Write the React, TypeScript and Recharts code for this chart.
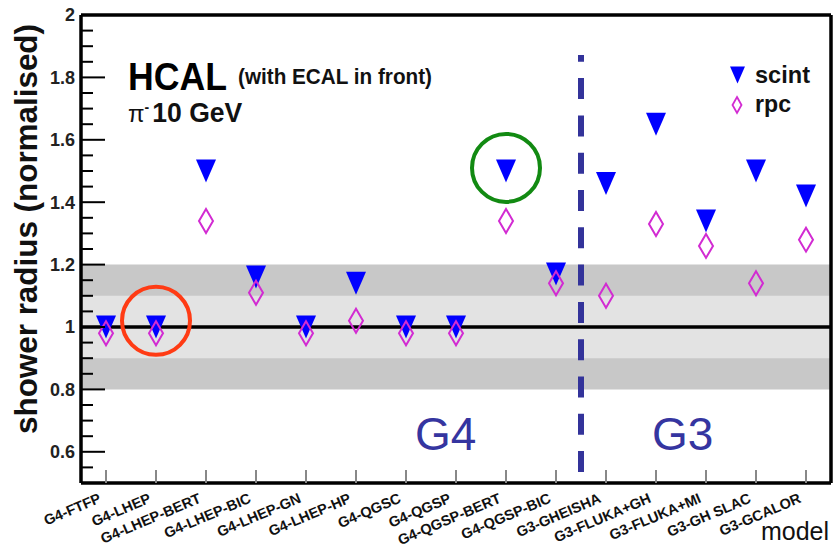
import {
  ComposedChart,
  Scatter,
  XAxis,
  YAxis,
  ReferenceArea,
  ReferenceLine,
  ReferenceDot,
} from 'recharts';

const FONT = '"Liberation Sans", Arial, Helvetica, sans-serif';

// hadronic shower models, G4 lists first then G3
const MODELS = [
  'G4-FTFP',
  'G4-LHEP',
  'G4-LHEP-BERT',
  'G4-LHEP-BIC',
  'G4-LHEP-GN',
  'G4-LHEP-HP',
  'G4-QGSC',
  'G4-QGSP',
  'G4-QGSP-BERT',
  'G4-QGSP-BIC',
  'G3-GHEISHA',
  'G3-FLUKA+GH',
  'G3-FLUKA+MI',
  'G3-GH SLAC',
  'G3-GCALOR',
];

// normalised shower radius per model
const SCINT = [1.0, 1.0, 1.5, 1.16, 1.0, 1.14, 1.0, 1.0, 1.5, 1.17, 1.46, 1.65, 1.34, 1.5, 1.42];
const RPC = [0.98, 0.98, 1.34, 1.11, 0.98, 1.02, 0.98, 0.98, 1.34, 1.14, 1.1, 1.33, 1.26, 1.14, 1.28];

const Y_LABELS = [0.6, 0.8, 1, 1.2, 1.4, 1.6, 1.8, 2];
const Y_TICKS = Array.from({ length: 31 }, (_, i) => Math.round((0.5 + i * 0.05) * 100) / 100);
const X_TICKS = MODELS.map((_, i) => i);

const scintPoints = MODELS.map((m, i) => ({ x: i, y: SCINT[i], model: m }));
const rpcPoints = MODELS.map((m, i) => ({ x: i, y: RPC[i], model: m }));

const isMajor = (v: number) => Y_LABELS.some((l) => Math.abs(l - v) < 1e-6);

function TriangleDown({ cx, cy, w = 20, h = 23 }: any) {
  return (
    <polygon
      points={`${cx - w / 2},${cy - h / 2} ${cx + w / 2},${cy - h / 2} ${cx},${cy + h / 2}`}
      fill="#0000ff"
    />
  );
}

function Diamond({ cx, cy, w = 14, h = 24, sw = 2 }: any) {
  return (
    <polygon
      points={`${cx},${cy - h / 2} ${cx + w / 2},${cy} ${cx},${cy + h / 2} ${cx - w / 2},${cy}`}
      fill="none"
      stroke="#d22bd2"
      strokeWidth={sw}
    />
  );
}

function LeftTick(props: any) {
  const { x, y, payload } = props;
  const major = isMajor(payload.value);
  return (
    <g>
      <line x1={x} x2={x + (major ? 24 : 12)} y1={y} y2={y} stroke="#000" strokeWidth={2} />
      {major && (
        <text
          x={x - 6}
          y={y}
          dy="0.36em"
          textAnchor="end"
          fontFamily={FONT}
          fontWeight="bold"
          fontSize={18}
          fill="#222"
        >
          {String(payload.value)}
        </text>
      )}
    </g>
  );
}

function RightTick(props: any) {
  const { x, y, payload } = props;
  const major = isMajor(payload.value);
  return <line x1={x} x2={x - (major ? 22 : 11)} y1={y} y2={y} stroke="#000" strokeWidth={2} />;
}

function BottomTick(props: any) {
  const { x, y, payload } = props;
  return (
    <g>
      <line x1={x} x2={x} y1={y} y2={y - 13} stroke="#888" strokeWidth={2} />
      <text
        transform={`translate(${x - 4},${y + 19}) rotate(-23)`}
        textAnchor="end"
        fontFamily={FONT}
        fontWeight="bold"
        fontSize={14.5}
        fill="#111"
      >
        {MODELS[payload.value]}
      </text>
    </g>
  );
}

function TopTick(props: any) {
  const { x, y } = props;
  return <line x1={x} x2={x} y1={y} y2={y + 12} stroke="#111" strokeWidth={2} />;
}

const axisLine = { stroke: '#000', strokeWidth: 3.5 };

export default function App() {
  return (
    <div style={{ position: 'absolute', left: 0, top: 0, width: 840, height: 546, background: '#fff' }}>
      <ComposedChart width={840} height={546} margin={{ top: 14, right: 8, bottom: 62, left: 80 }}>
        <XAxis
          xAxisId="b"
          type="number"
          dataKey="x"
          domain={[-0.5, 14.5]}
          ticks={X_TICKS}
          interval={0}
          height={1}
          tickSize={0}
          tickMargin={0}
          tickLine={false}
          tick={<BottomTick />}
          axisLine={axisLine}
        />
        <XAxis
          xAxisId="t"
          orientation="top"
          type="number"
          dataKey="x"
          domain={[-0.5, 14.5]}
          ticks={X_TICKS}
          interval={0}
          height={1}
          tickSize={0}
          tickMargin={0}
          tickLine={false}
          tick={<TopTick />}
          axisLine={axisLine}
        />
        <YAxis
          yAxisId="l"
          type="number"
          dataKey="y"
          domain={[0.5, 2]}
          ticks={Y_TICKS}
          interval={0}
          width={1}
          tickSize={0}
          tickMargin={0}
          tickLine={false}
          tick={<LeftTick />}
          axisLine={axisLine}
        />
        <YAxis
          yAxisId="r"
          orientation="right"
          type="number"
          dataKey="y"
          domain={[0.5, 2]}
          ticks={Y_TICKS}
          interval={0}
          width={1}
          tickSize={0}
          tickMargin={0}
          tickLine={false}
          tick={<RightTick />}
          axisLine={axisLine}
        />

        {/* tolerance bands around unity */}
        <ReferenceArea xAxisId="b" yAxisId="l" y1={0.8} y2={1.2} fill="#c8c8c8" fillOpacity={1} stroke="none" />
        <ReferenceArea xAxisId="b" yAxisId="l" y1={0.9} y2={1.1} fill="#e3e3e3" fillOpacity={1} stroke="none" />
        <ReferenceLine xAxisId="b" yAxisId="l" y={1} stroke="#000" strokeWidth={3.5} />

        {/* G4 | G3 separator, dashes counted from the bottom */}
        <ReferenceLine
          xAxisId="b"
          yAxisId="l"
          segment={[
            { x: 9.5, y: 0.535 },
            { x: 9.5, y: 1.872 },
          ]}
          stroke="#33339a"
          strokeWidth={6}
          strokeDasharray="21 16.3"
        />

        <Scatter
          xAxisId="b"
          yAxisId="l"
          name="scint"
          data={scintPoints}
          isAnimationActive={false}
          shape={(p: any) => <TriangleDown cx={p.cx} cy={p.cy} />}
        />
        <Scatter
          xAxisId="b"
          yAxisId="l"
          name="rpc"
          data={rpcPoints}
          isAnimationActive={false}
          shape={(p: any) => <Diamond cx={p.cx} cy={p.cy} />}
        />

        {/* highlighted models */}
        <ReferenceDot xAxisId="b" yAxisId="l" x={1} y={1.02} r={34} fill="none" stroke="#ff3b14" strokeWidth={4} />
        <ReferenceDot xAxisId="b" yAxisId="l" x={8} y={1.51} r={34} fill="none" stroke="#128a12" strokeWidth={4} />
      </ComposedChart>

      <svg
        width={840}
        height={546}
        style={{ position: 'absolute', left: 0, top: 0, pointerEvents: 'none' }}
        fontFamily={FONT}
      >
        <text
          transform="translate(37,229) rotate(-90)"
          textAnchor="middle"
          fontWeight="bold"
          fontSize={32}
          textLength={410}
          lengthAdjust="spacingAndGlyphs"
          fill="#111"
        >
          shower radius (normalised)
        </text>

        <text x={128} y={90} fontWeight="bold" fontSize={38} textLength={99} lengthAdjust="spacingAndGlyphs" fill="#000">
          HCAL
        </text>
        <text x={238} y={84} fontWeight="bold" fontSize={21.5} textLength={194} lengthAdjust="spacingAndGlyphs" fill="#111">
          (with ECAL in front)
        </text>
        <text x={128} y={122} fontWeight="bold" fill="#111">
          <tspan fontWeight="normal" fontSize={24}>π</tspan>
          <tspan dy={-10} fontSize={14}>-</tspan>
          <tspan dy={10} dx={3} fontSize={28} textLength={90} lengthAdjust="spacingAndGlyphs">10 GeV</tspan>
        </text>

        {/* legend */}
        <TriangleDown cx={737.5} cy={75} w={15} h={17} />
        <text x={755} y={83} fontWeight="bold" fontSize={24} textLength={55} lengthAdjust="spacingAndGlyphs" fill="#111">
          scint
        </text>
        <Diamond cx={737} cy={105} w={9} h={16} sw={1.8} />
        <text x={755} y={112} fontWeight="bold" fontSize={24} textLength={36} lengthAdjust="spacingAndGlyphs" fill="#111">
          rpc
        </text>

        <text x={415} y={450} fontSize={46} fill="#3535a0">
          G4
        </text>
        <text x={652} y={450} fontSize={46} fill="#3535a0">
          G3
        </text>

        <text x={829} y={540} textAnchor="end" fontSize={25} fill="#111">
          model
        </text>
      </svg>
    </div>
  );
}
